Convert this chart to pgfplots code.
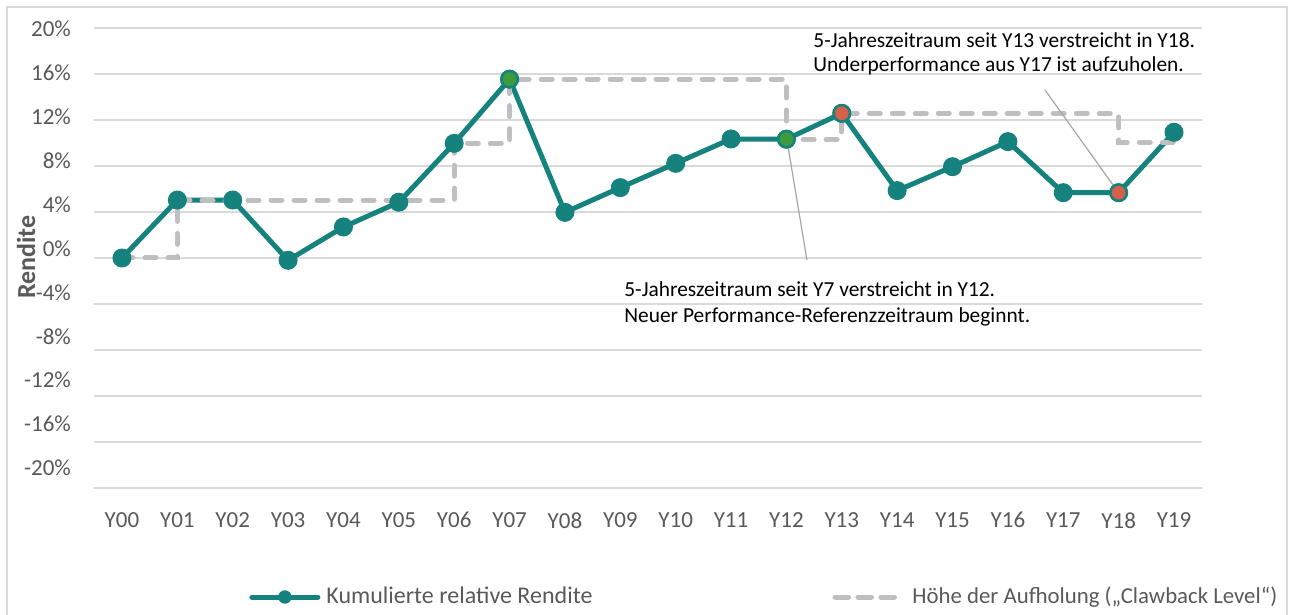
\documentclass[border=0pt]{standalone}
\usepackage{fontspec}
\setmainfont{Carlito}
\usepackage{pgfplots}
\pgfplotsset{compat=1.18}
\definecolor{teal1}{HTML}{15827E}
\definecolor{mgreen}{HTML}{3C9B3C}
\definecolor{mred}{HTML}{D6604A}
\definecolor{dashgray}{HTML}{BFBFBF}
\definecolor{gridgray}{HTML}{D9D9D9}
\definecolor{txtgray}{HTML}{595959}
\definecolor{leadgray}{HTML}{A6A6A6}
\pgfplotsset{
  mainleg/.style={legend image code/.code={\draw[##1, line cap=round, mark repeat=2, mark phase=2, mark size=3.1pt] plot coordinates {(1.25pt,0pt) (17.75pt,0pt) (34.25pt,0pt)};}},
  dashleg/.style={legend image code/.code={\draw[##1] (1.25pt,0pt) -- (29.75pt,0pt); \path (0pt,0pt) -- (31pt,0pt);}},
}
\begin{document}
\begin{tikzpicture}
\draw[gridgray, line width=0.75pt] (3.5pt,-10pt) -- (3.5pt,304pt) -- (643.5pt,304pt) -- (643.5pt,-10pt);
\node[rotate=90, anchor=base, font=\fontsize{13}{15}\selectfont\bfseries, text=txtgray, inner sep=0pt] at (17.5pt,179pt) {Rendite};
\begin{axis}[
  at={(47.15pt,63.5pt)}, anchor=south west,
  width=553.7pt, height=230pt, scale only axis,
  xmin=-0.5, xmax=19.5, ymin=-20, ymax=20,
  clip=false,
  axis line style={draw=none},
  major tick length=0pt,
  xtick={0,...,19},
  xticklabels={Y00,Y01,Y02,Y03,Y04,Y05,Y06,Y07,Y08,Y09,Y10,Y11,Y12,Y13,Y14,Y15,Y16,Y17,Y18,Y19},
  ytick={-20,-16,...,20},
  yticklabel={\relax},
  ymajorgrids, grid style={gridgray, line width=0.75pt},
  extra y ticks={-18.261,-14.443,-10.626,-6.809,-2.991,0.826,4.643,8.461,12.278,16.096,19.913},
  extra y tick labels={-20\%,-16\%,-12\%,-8\%,-4\%,0\%,4\%,8\%,12\%,16\%,20\%},
  extra y tick style={grid=none},
  ticklabel style={font=\fontsize{11.5}{13}\selectfont, text=txtgray, inner sep=0pt},
  xticklabel style={yshift=-12pt},
  yticklabel style={xshift=-11.5pt},
  legend columns=2,
  legend style={at={(0.1397,-0.237)}, anchor=west, draw=none, fill=none, inner sep=0pt,
    font=\fontsize{12}{14}\selectfont, text=txtgray, nodes={inner sep=0pt},
    /tikz/column 1/.style={column sep=3pt},
    /tikz/column 2/.style={column sep=120pt},
    /tikz/column 3/.style={column sep=6.5pt}},
]
\addplot[teal1, line width=2.5pt, line join=round, mark=*, mark size=4.5pt,
  mark options={line width=0.5pt, fill=teal1}, mainleg]
coordinates {(0,0)(1,5.04)(2,5.04)(3,-0.2)(4,2.7)(5,4.85)(6,9.97)(7,15.55)(8,3.97)(9,6.12)(10,8.23)(11,10.35)(12,10.33)(13,12.58)(14,5.86)(15,7.94)(16,10.12)(17,5.68)(18,5.68)(19,10.93)};
\addlegendentry{Kumulierte relative Rendite}
\addplot[only marks, mark=*, mark size=4.1pt, mark options={fill=mgreen, draw=teal1, line width=1.2pt}, forget plot]
coordinates {(7,15.55)(12,10.33)};
\addplot[only marks, mark=*, mark size=4.1pt, mark options={fill=mred, draw=teal1, line width=1.2pt}, forget plot]
coordinates {(13,12.58)(18,5.68)};
\addplot[const plot, dashgray, line width=2.5pt, dash pattern=on 5.5pt off 6pt, line cap=round, no marks, dashleg]
coordinates {(0,0)(1,5.04)(6,9.97)(7,15.55)(12,10.33)(13,12.58)(18,10.06)(19,10.06)};
\addlegendentry{\fontsize{11.4}{14}\selectfont Höhe der Aufholung („Clawback Level“)}
\draw[leadgray, line width=0.6pt] (axis cs:12.01,10.26) -- (axis cs:12.37,-0.17);
\draw[leadgray, line width=0.6pt] (axis cs:16.67,14.61) -- (axis cs:17.99,5.74);
\node[anchor=base west, font=\fontsize{10.7}{12}\selectfont, inner sep=0pt] at (axis cs:12.48,18.32) {5-Jahreszeitraum seit Y13 verstreicht in Y18.};
\node[anchor=base west, font=\fontsize{10.7}{12}\selectfont, inner sep=0pt] at (axis cs:12.48,16.2) {Underperformance aus Y17 ist aufzuholen.};
\node[anchor=base west, font=\fontsize{10.7}{12}\selectfont, inner sep=0pt] at (axis cs:9.066,-3.39) {5-Jahreszeitraum seit Y7 verstreicht in Y12.};
\node[anchor=base west, font=\fontsize{10.7}{12}\selectfont, inner sep=0pt] at (axis cs:9.066,-5.57) {Neuer Performance-Referenzzeitraum beginnt.};
\end{axis}
\pgfresetboundingbox
\path[use as bounding box] (0pt,0pt) rectangle (646pt,307.5pt);
\end{tikzpicture}
\end{document}
